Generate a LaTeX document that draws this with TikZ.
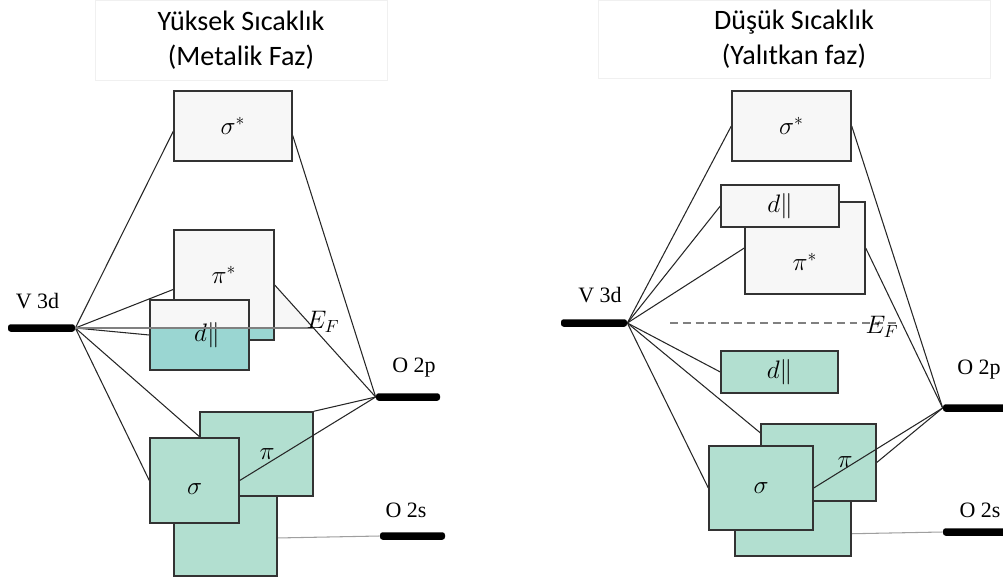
\documentclass[tikz,border=0pt]{standalone}
\usepackage{fontspec}
\setmainfont{Liberation Serif}
\newfontfamily\titlefont{Carlito}
\usepackage{tikz}

\definecolor{boxgray}{HTML}{F7F7F7}
\definecolor{bondgreen}{HTML}{B2DFD0}
\definecolor{fermiteal}{HTML}{9AD6D2}
\definecolor{edgegray}{HTML}{333333}

\pgfdeclarelayer{bg}
\pgfsetlayers{bg,main}

\begin{document}
\begin{tikzpicture}[x=0.02cm, y=-0.02cm,
        title/.style={draw=gray!12, font=\titlefont\fontsize{16}{20}\selectfont, align=center, inner sep=0pt},
        orb/.style={draw=edgegray, line width=0.8pt, fill=boxgray, inner sep=0pt, font=\fontsize{14}{16}\selectfont},
        bond/.style={orb, fill=bondgreen},
        halffill/.style={path picture={\fill[fermiteal] (path picture bounding box.south west) rectangle (path picture bounding box.east |- #1);}},
        lvl/.style={fill=black, inner sep=0pt, minimum height=0.15cm, rounded corners=1.5pt},
        lvltext/.style={font=\fontsize{12.5}{15}\selectfont, inner sep=0pt},
        orbtext/.style={font=\fontsize{14}{16}\selectfont, inner sep=0pt},
        link/.style={line width=0.6pt, black!85},
        slink/.style={line width=0.6pt, gray!75},
        fermi/.style={line width=0.6pt, gray}
    ]
    \useasboundingbox (0,0) rectangle (1003,581);

    % left: metallic phase
    \node[title, minimum width=5.84cm, minimum height=1.6cm] (titleL) at (241,40) {Yüksek Sıcaklık\\(Metalik Faz)};
    \coordinate (efL) at (313,328);
    \node[orb, minimum width=2.36cm, minimum height=1.4cm] (sigstarL) at (233,126) {$\sigma^*$};
    \node[orb, halffill=efL, minimum width=2.0cm, minimum height=2.2cm,
        label={[orbtext, yshift=0.2cm]center:$\pi^*$}] (pistarL) at (224,285) {};
    \node[orb, halffill=efL, minimum width=1.98cm, minimum height=1.4cm,
        label={[orbtext, xshift=0.15cm]center:$d\|$}] (dparL) at (199.5,335) {};
    \node[bond, minimum width=2.06cm, minimum height=2.12cm] (botL) at (225.5,523) {};
    \node[bond, minimum width=2.26cm, minimum height=1.68cm,
        label={[orbtext, xshift=0.21cm]center:$\pi$}] (piL) at (256.5,454) {};
    \node[bond, minimum width=1.78cm, minimum height=1.7cm,
        label={[orbtext, yshift=-0.18cm]center:$\sigma$}] (sigL) at (194.5,480.5) {};

    \node[lvl, minimum width=1.34cm] (v3dL) at (41.5,328) {};
    \node[lvltext] (v3dtxtL) at (37.5,301) {V 3d};
    \node[lvl, minimum width=1.28cm] (o2pL) at (408,397) {};
    \node[lvltext] (o2ptxtL) at (414,368) {O 2p};
    \node[lvl, minimum width=1.30cm] (o2sL) at (412.5,536) {};
    \node[lvltext] (o2stxtL) at (406,510) {O 2s};

    \begin{pgfonlayer}{bg}
        \fill[boxgray] (pistarL.east) -- (efL) -- (pistarL.east |- efL) -- cycle;
        \draw[link] (v3dL.east) -- (sigstarL.185);
        \draw[link] (v3dL.east) -- (pistarL.185);
        \draw[link] (v3dL.east) -- (dparL.west);
        \draw[link] (v3dL.east) -- (piL.163);
        \draw[link] (v3dL.east) -- (sigL.west);
        \draw[link] (o2pL.west) -- (sigstarL.-9);
        \draw[link] (o2pL.west) -- (pistarL.east);
        \draw[link] (o2pL.west) -- (piL.north east);
        \draw[slink] (botL.-16) -- (o2sL.west);
    \end{pgfonlayer}
    \draw[fermi] (v3dL.east) -- (efL);
    \draw[link] (sigL.east) -- (o2pL.west);
    \node[orbtext] (efLtxt) at (323,322) {$E_F$};

    % right: insulating phase
    \node[title, minimum width=7.84cm, minimum height=1.56cm] (titleR) at (794,39) {Düşük Sıcaklık\\(Yalıtkan faz)};
    \node[orb, minimum width=2.38cm, minimum height=1.4cm] (sigstarR) at (791.5,126) {$\sigma^*$};
    \node[orb, minimum width=2.4cm, minimum height=1.84cm,
        label={[orbtext, yshift=-0.28cm]center:$\pi^*$}] (pistarR) at (805,248) {};
    \node[orb, minimum width=2.36cm, minimum height=0.84cm] (dpartopR) at (780,206) {$d\|$};
    \node[bond, minimum width=2.34cm, minimum height=0.84cm] (dparR) at (779.5,372) {$d\|$};
    \node[bond, minimum width=2.32cm, minimum height=1.52cm] (botR) at (793,518) {};
    \node[bond, minimum width=2.3cm, minimum height=1.54cm,
        label={[orbtext, xshift=0.53cm]center:$\pi$}] (piR) at (818.5,462.5) {};
    \node[bond, minimum width=2.08cm, minimum height=1.68cm] (sigR) at (761,488) {$\sigma$};

    \node[lvl, minimum width=1.32cm] (v3dR) at (594,323) {};
    \node[lvltext] (v3dtxtR) at (600,295) {V 3d};
    \node[lvl, minimum width=1.4cm] (o2pR) at (978,408) {};
    \node[lvltext] (o2ptxtR) at (979,370) {O 2p};
    \node[lvl, minimum width=1.4cm] (o2sR) at (978,532) {};
    \node[lvltext] (o2stxtR) at (980,510) {O 2s};
    \coordinate (efRa) at (670,323);
    \coordinate (efRb) at (898,323);

    \begin{pgfonlayer}{bg}
        \draw[link] (v3dR.east) -- (sigstarR.west);
        \draw[link] (v3dR.east) -- (dpartopR.west);
        \draw[link] (v3dR.east) -- (pistarR.west);
        \draw[link] (v3dR.east) -- (dparR.west);
        \draw[link] (v3dR.east) -- (piR.153);
        \draw[link] (v3dR.east) -- (sigR.west);
        \draw[link] (o2pR.west) -- (sigstarR.east);
        \draw[link] (o2pR.west) -- (pistarR.east);
        \draw[link] (o2pR.west) -- (piR.east);
        \draw[slink] (botR.-15) -- (o2sR.west);
        \draw[fermi, dash pattern=on 4.5pt off 2.8pt] (efRa) -- (efRb);
    \end{pgfonlayer}
    \draw[link] (sigR.east) -- (o2pR.west);
    \node[orbtext] (efRtxt) at (882,327) {$E_F$};
\end{tikzpicture}
\end{document}
